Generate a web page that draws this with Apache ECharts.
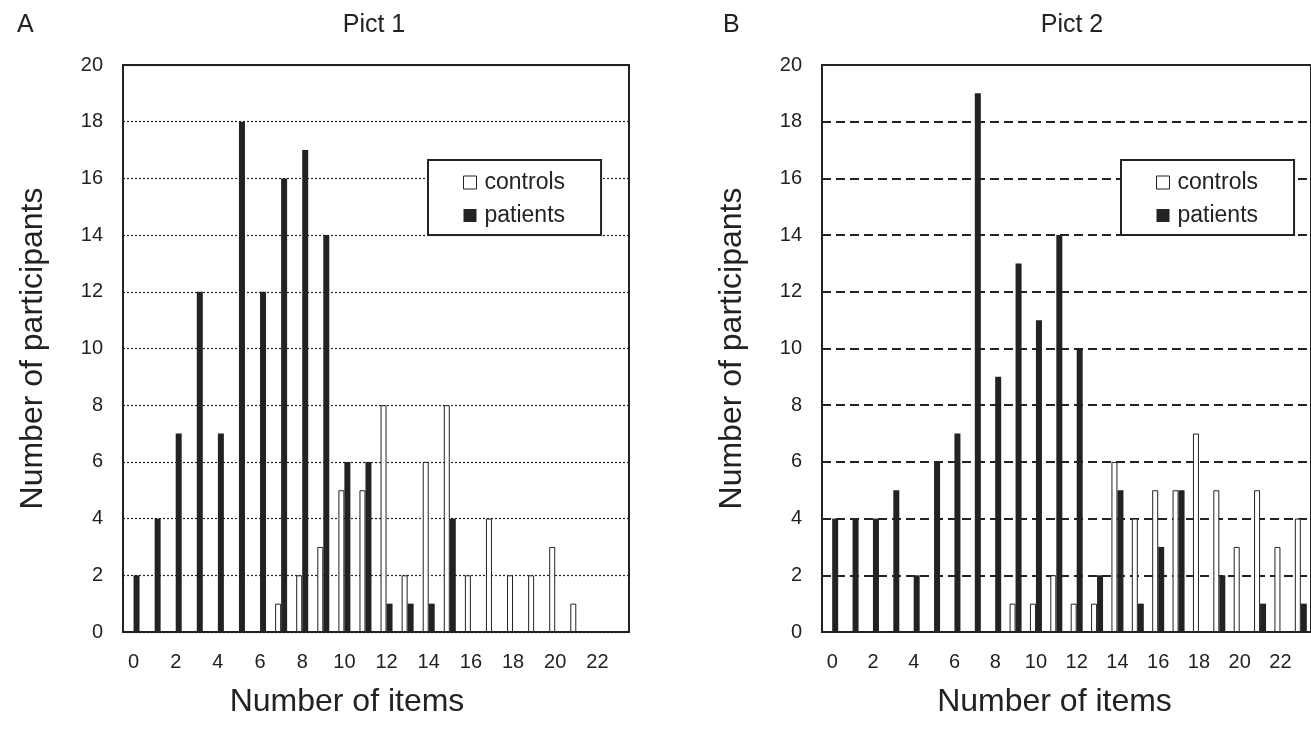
<!DOCTYPE html>
<html>
<head>
<meta charset="utf-8">
<script src="https://cdn.jsdelivr.net/npm/echarts@6/dist/echarts.min.js"></script>
<style>
html, body { margin: 0; padding: 0; background: #fff; }
#main { width: 1311px; height: 729px; }
</style>
</head>
<body>
<div id="main"></div>
<script>
// 数据：两张图共用同一组类目
var items = ['0','1','2','3','4','5','6','7','8','9','10','11','12','13','14','15','16','17','18','19','20','21','22','23'];
var controls1 = [0,0,0,0,0,0,0,1,2,3,5,5,8,2,6,8,2,4,2,2,3,1,0,0];
var patients1 = [2,4,7,12,7,18,12,16,17,14,6,6,1,1,1,4,0,0,0,0,0,0,0,0];
var controls2 = [0,0,0,0,0,0,0,0,0,1,1,2,1,1,6,4,5,5,7,5,3,5,3,4];
var patients2 = [4,4,4,5,2,6,7,19,9,13,11,14,10,2,5,1,3,5,0,2,0,1,0,1];

var font = "'Liberation Sans', Arial, sans-serif";
var ink = '#222';

var myChart = echarts.init(document.getElementById('main'));

function xAxis(idx, shift) {
    return {
        type: 'category',
        gridIndex: idx,
        data: items,
        name: 'Number of items',
        nameLocation: 'middle',
        nameGap: 54,
        nameTextStyle: { fontSize: 32, color: ink, fontFamily: font, padding: [0, shift, 0, 0] },
        axisLine: { show: false },
        axisTick: { show: false },
        axisLabel: { interval: 1, fontSize: 20, color: ink, fontFamily: font, margin: 20 }
    };
}

function yAxis(idx, lineType, lineWidth) {
    return {
        type: 'value',
        gridIndex: idx,
        min: 0,
        max: 20,
        interval: 2,
        name: 'Number of participants',
        nameLocation: 'middle',
        nameGap: 74,
        nameTextStyle: { fontSize: 32, color: ink, fontFamily: font },
        axisLine: { show: false },
        axisTick: { show: false },
        axisLabel: { fontSize: 20, color: ink, fontFamily: font, margin: 20 },
        splitLine: {                       // 网格线：左图点线，右图虚线
            show: true,
            lineStyle: { color: ink, type: lineType, width: lineWidth }
        }
    };
}

function legend(left, seriesNames) {
    return {
        data: [
            { name: seriesNames[0], icon: 'rect', itemStyle: { color: '#fff', borderColor: ink, borderWidth: 1 } },
            { name: seriesNames[1], icon: 'rect', itemStyle: { color: ink } }
        ],
        orient: 'vertical',
        left: left,
        top: 160,
        padding: [11, 36, 8, 35],
        itemGap: 10,
        itemWidth: 13,
        itemHeight: 13,
        backgroundColor: '#fff',
        borderColor: ink,
        borderWidth: 2,
        formatter: function (n) { return n.split('#')[0]; },
        textStyle: { fontSize: 23, color: ink, fontFamily: font, padding: [0, 0, 0, 3] }
    };
}

function bars(name, idx, data, isControl) {
    return {
        name: name,
        type: 'bar',
        xAxisIndex: idx,
        yAxisIndex: idx,
        data: data,
        barWidth: 6,
        barGap: '0%',
        itemStyle: isControl
            ? { color: '#fff', borderColor: ink, borderWidth: 1 }
            : { color: ink },
        emphasis: { disabled: true }
    };
}

var titleStyle = { fontSize: 25, fontWeight: 'normal', color: ink, fontFamily: font };

var option = {
    backgroundColor: '#fff',
    animation: false,
    title: [
        { text: 'A', left: 12, top: 8, textStyle: titleStyle },
        { text: 'Pict 1', left: 369, top: 8, textAlign: 'center', textStyle: titleStyle },
        { text: 'B', left: 718, top: 8, textStyle: titleStyle },
        { text: 'Pict 2', left: 1067, top: 8, textAlign: 'center', textStyle: titleStyle }
    ],
    legend: [
        legend(428, ['controls#1', 'patients#1']),
        legend(1121, ['controls#2', 'patients#2'])
    ],
    grid: [
        { left: 123, right: 682, top: 65, bottom: 97, show: true, borderColor: ink, borderWidth: 2 },
        { left: 822, right: -20, top: 65, bottom: 97, show: true, borderColor: ink, borderWidth: 2 }
    ],
    xAxis: [xAxis(0, 58), xAxis(1, 24)],
    yAxis: [yAxis(0, [2, 2], 1.2), yAxis(1, [9, 5], 2)],
    series: [
        bars('controls#1', 0, controls1, true),
        bars('patients#1', 0, patients1, false),
        bars('controls#2', 1, controls2, true),
        bars('patients#2', 1, patients2, false)
    ]
};

option && myChart.setOption(option);
</script>
</body>
</html>
